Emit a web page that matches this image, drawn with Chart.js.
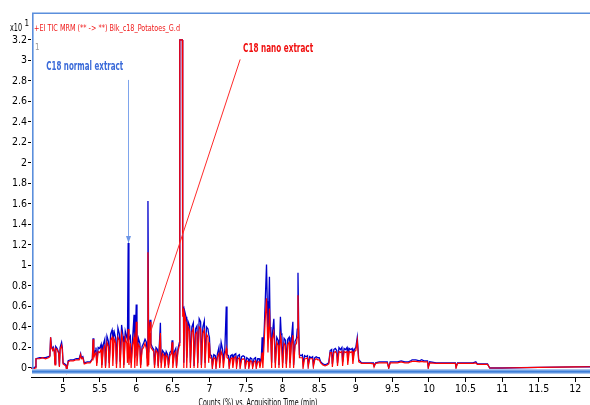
<!DOCTYPE html>
<html>
<head>
<meta charset="utf-8">
<script src="https://cdn.jsdelivr.net/npm/chart.js@4.4.1/dist/chart.umd.min.js"></script>
<style>
  html, body { margin: 0; padding: 0; background: #fff; }
  canvas { display: block; }
</style>
</head>
<body>
<canvas id="tic" width="590" height="405"></canvas>
<script>
// acquisition time (min)
const timeMin = [
  4.56, 4.60, 4.62, 4.63, 4.68, 4.72, 4.76, 4.80, 4.82, 4.83, 4.84,
  4.86, 4.87, 4.88, 4.89, 4.90, 4.92, 4.94, 4.95, 4.96, 4.98, 4.99,
  5.00, 5.02, 5.04, 5.05, 5.07, 5.10, 5.14, 5.18, 5.22, 5.24, 5.25, 5.27,
  5.29, 5.33, 5.37, 5.40, 5.41, 5.42, 5.44, 5.45, 5.46, 5.48, 5.50,
  5.52, 5.53, 5.55, 5.57, 5.58, 5.60, 5.62, 5.63, 5.65, 5.67, 5.68, 5.70,
  5.72, 5.73, 5.75, 5.77, 5.78, 5.80, 5.82, 5.83, 5.85, 5.87, 5.88, 5.89,
  5.90, 5.92, 5.93, 5.95, 5.97, 5.98, 6.00, 6.01,
  6.03, 6.05, 6.06, 6.08, 6.10, 6.12, 6.14, 6.15, 6.16, 6.17, 6.18, 6.19,
  6.20, 6.22, 6.24, 6.25, 6.27, 6.29, 6.30, 6.32, 6.33, 6.34, 6.36, 6.38,
  6.39, 6.41, 6.43, 6.44, 6.46, 6.48, 6.49, 6.50, 6.52, 6.54, 6.55, 6.57, 6.59,
  6.595, 6.612, 6.630, 6.635, 6.645, 6.65, 6.66, 6.68, 6.69, 6.71, 6.73, 6.74,
  6.76, 6.78, 6.79, 6.81, 6.83, 6.84, 6.86, 6.88, 6.89, 6.91, 6.93, 6.94,
  6.96, 6.98, 6.99, 7.00,
  7.01, 7.03, 7.04, 7.06, 7.08, 7.09, 7.11, 7.13, 7.14, 7.16, 7.18, 7.19,
  7.21, 7.23, 7.24, 7.26, 7.27, 7.29, 7.31, 7.32, 7.34, 7.36, 7.37, 7.39,
  7.41, 7.42, 7.44, 7.46, 7.48, 7.49, 7.51, 7.53, 7.54, 7.56, 7.58, 7.59,
  7.61, 7.63, 7.64, 7.66, 7.68, 7.69, 7.71,
  7.72, 7.73, 7.75, 7.76, 7.78, 7.79, 7.80, 7.82, 7.83, 7.84, 7.85, 7.86,
  7.88, 7.89, 7.90, 7.92, 7.94, 7.95, 7.97, 7.98, 7.99, 8.00, 8.02, 8.04,
  8.05, 8.07, 8.09, 8.10, 8.12, 8.14, 8.15, 8.17, 8.19, 8.20, 8.21, 8.22,
  8.23, 8.25, 8.27, 8.28, 8.30, 8.32, 8.34, 8.35, 8.37, 8.39, 8.41, 8.42,
  8.44, 8.46, 8.48, 8.50, 8.52, 8.55, 8.58, 8.61, 8.63, 8.65, 8.67, 8.68,
  8.70, 8.72, 8.74, 8.75, 8.77, 8.79, 8.81, 8.82, 8.84, 8.86, 8.88, 8.89,
  8.91, 8.93, 8.95, 8.96, 8.98, 9.00, 9.02, 9.04,
  9.08, 9.12, 9.16, 9.20, 9.24, 9.25, 9.27, 9.32, 9.38, 9.43, 9.45, 9.47,
  9.52, 9.57, 9.62, 9.67, 9.72, 9.75, 9.77, 9.82, 9.87, 9.90, 9.93, 9.98,
  9.99, 10.01, 10.1, 10.2, 10.3, 10.36, 10.37, 10.39, 10.5, 10.6, 10.64, 10.66,
  10.75, 10.80, 10.83, 11.0, 11.5, 12.0, 12.2
];

// C18 normal extract (blue), counts x10^1
const normalExtract = [
  0.00, 0.00, 0.01, 0.09, 0.10, 0.10, 0.10, 0.11, 0.12, 0.30, 0.22,
  0.18, 0.20, 0.17, 0.04, 0.21, 0.19, 0.15, 0.02, 0.20, 0.25, 0.20,
  0.05, 0.04, 0.03, -0.02, 0.07, 0.08, 0.08, 0.09, 0.09, 0.14, 0.10, 0.11,
  0.05, 0.06, 0.06, 0.09, 0.29, 0.13, 0.17, 0.20, 0.05, 0.20, 0.19,
  0.23, 0.03, 0.23, 0.28, 0.02, 0.31, 0.26, 0.05, 0.33, 0.37, 0.26, 0.35,
  0.29, 0.04, 0.39, 0.33, 0.06, 0.42, 0.31, 0.03, 0.36, 0.30, 0.28, 1.22,
  0.28, 0.31, 0.05, 0.28, 0.52, 0.10, 0.62, 0.12,
  0.29, 0.24, 0.03, 0.21, 0.24, 0.28, 0.25, 0.10, 1.63, 0.15, 0.40, 0.47,
  0.24, 0.20, 0.18, 0.03, 0.20, 0.18, 0.02, 0.29, 0.44, 0.05, 0.17, 0.15,
  0.02, 0.16, 0.13, 0.03, 0.15, 0.17, 0.27, 0.05, 0.16, 0.19, 0.02, 0.19, 0.25,
  3.2, 3.2, 3.2, 0.55, 0.60, 0.05, 0.56, 0.50, 0.10, 0.45, 0.41, 0.05,
  0.40, 0.44, 0.02, 0.38, 0.41, 0.05, 0.48, 0.45, 0.03, 0.40, 0.46, 0.05,
  0.40, 0.38, 0.33, 0.30,
  0.13, 0.12, 0.02, 0.13, 0.12, 0.03, 0.14, 0.20, 0.05, 0.25, 0.18, 0.08,
  0.17, 0.60, 0.13, 0.12, 0.03, 0.12, 0.13, 0.04, 0.13, 0.14, 0.05, 0.12,
  0.13, 0.03, 0.11, 0.12, 0.11, 0.02, 0.10, 0.09, 0.03, 0.10, 0.09, 0.02,
  0.09, 0.10, 0.02, 0.09, 0.09, 0.02, 0.11,
  0.30, 0.08, 0.40, 0.60, 1.01, 0.65, 0.30, 0.89, 0.40, 0.29, 0.05, 0.33,
  0.48, 0.28, 0.05, 0.30, 0.27, 0.03, 0.50, 0.34, 0.32, 0.05, 0.29, 0.27,
  0.04, 0.28, 0.30, 0.05, 0.28, 0.45, 0.03, 0.26, 0.29, 0.38, 0.93, 0.40,
  0.13, 0.12, 0.13, 0.04, 0.12, 0.11, 0.12, 0.03, 0.11, 0.10, 0.11, 0.03,
  0.10, 0.11, 0.10, 0.10, 0.06, 0.04, 0.03, 0.04, 0.05, 0.17, 0.18, 0.04,
  0.18, 0.19, 0.17, 0.05, 0.20, 0.18, 0.20, 0.06, 0.19, 0.18, 0.20, 0.07,
  0.19, 0.18, 0.19, 0.08, 0.18, 0.20, 0.30, 0.08,
  0.05, 0.05, 0.05, 0.05, 0.05, 0.02, 0.05, 0.06, 0.06, 0.06, 0.00, 0.06,
  0.06, 0.06, 0.07, 0.06, 0.06, 0.07, 0.08, 0.08, 0.07, 0.08, 0.07, 0.07,
  0.01, 0.06, 0.05, 0.05, 0.05, 0.05, 0.01, 0.05, 0.05, 0.05, 0.06, 0.04,
  0.04, 0.04, 0.00, 0.00, 0.005, 0.01, 0.012
];

// C18 nano extract (red)
const nanoExtract = [
  0.00, -0.01, 0.00, 0.09, 0.09, 0.10, 0.09, 0.10, 0.11, 0.30, 0.20,
  0.17, 0.19, 0.16, 0.03, 0.19, 0.18, 0.14, 0.01, 0.18, 0.22, 0.18,
  0.04, 0.03, 0.02, -0.03, 0.06, 0.07, 0.07, 0.08, 0.08, 0.13, 0.09, 0.10,
  0.04, 0.05, 0.05, 0.08, 0.28, 0.10, 0.14, 0.16, 0.02, 0.16, 0.15,
  0.18, 0.00, 0.19, 0.22, 0.00, 0.25, 0.21, 0.00, 0.27, 0.30, 0.02, 0.28,
  0.24, 0.00, 0.30, 0.27, 0.00, 0.33, 0.25, 0.00, 0.30, 0.24, 0.05, 0.38,
  0.03, 0.24, 0.00, 0.22, 0.30, 0.00, 0.45, 0.02,
  0.23, 0.20, 0.00, 0.18, 0.20, 0.24, 0.18, 0.02, 1.13, 0.03, 0.35, 0.45,
  0.20, 0.18, 0.16, 0.00, 0.17, 0.15, 0.00, 0.25, 0.34, 0.00, 0.14, 0.12,
  0.00, 0.13, 0.10, 0.00, 0.12, 0.14, 0.25, 0.00, 0.13, 0.16, 0.00, 0.16, 0.22,
  3.2, 3.2, 3.2, 0.50, 0.58, 0.00, 0.52, 0.45, 0.00, 0.40, 0.36, 0.00,
  0.35, 0.38, 0.00, 0.33, 0.35, 0.00, 0.40, 0.38, 0.00, 0.34, 0.37, 0.00,
  0.33, 0.30, 0.05, 0.25,
  0.10, 0.09, 0.00, 0.10, 0.09, 0.00, 0.11, 0.14, 0.00, 0.16, 0.12, 0.00,
  0.12, 0.19, 0.10, 0.09, 0.00, 0.09, 0.10, 0.00, 0.10, 0.11, 0.00, 0.09,
  0.10, 0.00, 0.08, 0.09, 0.08, 0.00, 0.07, 0.06, 0.00, 0.07, 0.06, 0.00,
  0.06, 0.07, 0.00, 0.06, 0.06, 0.00, 0.08,
  0.15, 0.00, 0.28, 0.45, 0.68, 0.40, 0.15, 0.58, 0.30, 0.25, 0.00, 0.28,
  0.35, 0.22, 0.00, 0.25, 0.22, 0.00, 0.32, 0.28, 0.28, 0.00, 0.24, 0.22,
  0.00, 0.23, 0.25, 0.00, 0.22, 0.32, 0.00, 0.22, 0.24, 0.30, 0.71, 0.30,
  0.10, 0.10, 0.10, 0.00, 0.09, 0.09, 0.10, 0.01, 0.09, 0.09, 0.09, 0.01,
  0.08, 0.09, 0.08, 0.08, 0.05, 0.03, 0.02, 0.03, 0.04, 0.15, 0.15, 0.01,
  0.15, 0.16, 0.14, 0.02, 0.16, 0.15, 0.16, 0.02, 0.16, 0.15, 0.16, 0.03,
  0.16, 0.15, 0.16, 0.04, 0.16, 0.17, 0.27, 0.06,
  0.045, 0.045, 0.045, 0.045, 0.04, 0.01, 0.045, 0.05, 0.05, 0.05, 0.00, 0.05,
  0.05, 0.05, 0.06, 0.05, 0.05, 0.06, 0.065, 0.065, 0.06, 0.065, 0.06, 0.06,
  0.00, 0.05, 0.045, 0.045, 0.045, 0.045, 0.00, 0.045, 0.045, 0.045, 0.05, 0.035,
  0.035, 0.035, 0.00, 0.00, 0.005, 0.01, 0.012
];

const xTicks = [5, 5.5, 6, 6.5, 7, 7.5, 8, 8.5, 9, 9.5, 10, 10.5, 11, 11.5, 12];
const yTicks = [0, 0.2, 0.4, 0.6, 0.8, 1, 1.2, 1.4, 1.6, 1.8, 2, 2.2, 2.4, 2.6, 2.8, 3, 3.2];

const narrow = "'Liberation Sans Narrow', 'Arial Narrow', 'DejaVu Sans Condensed', Arial, sans-serif";

if (timeMin.length !== normalExtract.length || timeMin.length !== nanoExtract.length) {
    console.warn('series length mismatch', timeMin.length, normalExtract.length, nanoExtract.length);
}

function toPoints(values) {
    return timeMin.map((t, i) => ({x: t, y: values[i]}));
}

// squeeze text horizontally to the width it has in the original
function squeezedText(ctx, text, x, y, width) {
    const w = ctx.measureText(text).width;
    const sx = width ? Math.min(1, width / w) : 1;
    ctx.save();
    ctx.translate(x, y);
    ctx.scale(sx, 1);
    ctx.fillText(text, 0, 0);
    ctx.restore();
}

const decorations = {
    id: 'decorations',
    afterDatasetsDraw(chart) {
        const ctx = chart.ctx;
        const a = chart.chartArea;
        const xs = chart.scales.x;
        const ys = chart.scales.y;
        ctx.save();

        // light blue frame of the trace window
        ctx.fillStyle = '#5b8fdc';
        ctx.fillRect(a.left + 1, a.top - 0.5, a.right - a.left, 1.5);
        ctx.fillRect(a.left + 1, a.top, 1.6, a.bottom - a.top - 4);
        ctx.fillStyle = '#a9c6f0';
        ctx.fillRect(a.left + 1, a.bottom - 8, a.right - a.left, 5);
        ctx.fillStyle = '#3f7fd8';
        ctx.fillRect(a.left + 1, a.bottom - 6.5, a.right - a.left, 2.2);

        ctx.textAlign = 'left';
        ctx.textBaseline = 'alphabetic';

        // trace header
        ctx.fillStyle = '#000';
        ctx.font = '10px ' + narrow;
        squeezedText(ctx, 'x10', 10, 31, 12);
        ctx.font = '8px ' + narrow;
        ctx.fillText('1', 24.5, 26);
        ctx.fillStyle = '#f01818';
        ctx.font = '9.5px ' + narrow;
        squeezedText(ctx, '+EI TIC MRM (** -> **) Blk_c18_Potatoes_G.d', a.left + 3, 31, 146);
        ctx.fillStyle = '#9a9a9a';
        ctx.font = '8px ' + narrow;
        ctx.fillText('1', a.left + 4, 50);

        // annotations
        ctx.font = 'bold 13px ' + narrow;
        ctx.fillStyle = '#3b6bd9';
        squeezedText(ctx, 'C18 normal extract', xs.getPixelForValue(4.77), ys.getPixelForValue(2.91), 77);
        ctx.fillStyle = '#f01010';
        squeezedText(ctx, 'C18 nano extract', xs.getPixelForValue(7.46), ys.getPixelForValue(3.08), 70);

        // blue arrow
        const ax = Math.round(xs.getPixelForValue(5.89)) + 0.5;
        const ay0 = ys.getPixelForValue(2.81);
        const ay1 = ys.getPixelForValue(1.22);
        ctx.strokeStyle = '#7ea4ec';
        ctx.lineWidth = 1;
        ctx.beginPath();
        ctx.moveTo(ax, ay0);
        ctx.lineTo(ax, ay1);
        ctx.stroke();
        ctx.fillStyle = '#6d96e6';
        ctx.beginPath();
        ctx.moveTo(ax - 2.5, ay1 - 7);
        ctx.lineTo(ax + 2.5, ay1 - 7);
        ctx.lineTo(ax, ay1);
        ctx.closePath();
        ctx.fill();

        // red pointer line
        ctx.strokeStyle = '#ff2a2a';
        ctx.beginPath();
        ctx.moveTo(xs.getPixelForValue(7.42), ys.getPixelForValue(3.01));
        ctx.lineTo(xs.getPixelForValue(6.19), ys.getPixelForValue(0.34));
        ctx.stroke();

        // axis title, cut by the bottom edge like the original
        ctx.fillStyle = '#000';
        ctx.font = '10px ' + narrow;
        ctx.textAlign = 'center';
        squeezedText(ctx, 'Counts (%) vs. Acquisition Time (min)', 258, 406, 119);

        ctx.restore();
    }
};

new Chart(document.getElementById('tic'), {
    type: 'line',
    data: {
        datasets: [
            {
                label: 'C18 nano extract',
                data: toPoints(nanoExtract),
                borderColor: '#ff0000',
                borderWidth: 1.2,
                pointRadius: 0,
                tension: 0,
                fill: false
            },
            {
                label: 'C18 normal extract',
                data: toPoints(normalExtract),
                borderColor: '#0000cc',
                borderWidth: 1.3,
                pointRadius: 0,
                tension: 0,
                fill: false
            }
        ]
    },
    options: {
        responsive: false,
        animation: false,
        devicePixelRatio: 1,
        layout: { padding: { top: 13, left: 0, right: 0, bottom: 0 } },
        plugins: {
            legend: { display: false },
            tooltip: { enabled: false },
            title: { display: false }
        },
        scales: {
            x: {
                type: 'linear',
                min: 4.562,
                max: 12.2,
                afterBuildTicks: s => { s.ticks = xTicks.map(v => ({value: v})); },
                afterFit: s => { s.height = 28; },
                ticks: {
                    color: '#000',
                    font: { family: narrow, size: 10.5 },
                    maxRotation: 0,
                    autoSkip: false,
                    padding: 1,
                    callback: v => String(v)
                },
                grid: { drawOnChartArea: false, drawTicks: true, tickLength: 5, color: '#000' },
                border: { display: true, color: '#000' }
            },
            y: {
                min: -0.088,
                max: 3.463,
                afterBuildTicks: s => { s.ticks = yTicks.map(v => ({value: v})); },
                afterFit: s => { s.width = 31; },
                ticks: {
                    color: '#000',
                    font: { family: narrow, size: 10.5 },
                    autoSkip: false,
                    padding: 1,
                    callback: v => String(Math.round(v * 10) / 10)
                },
                grid: { drawOnChartArea: false, drawTicks: true, tickLength: 3, color: '#000' },
                border: { display: false }
            }
        }
    },
    plugins: [decorations]
});
</script>
</body>
</html>
